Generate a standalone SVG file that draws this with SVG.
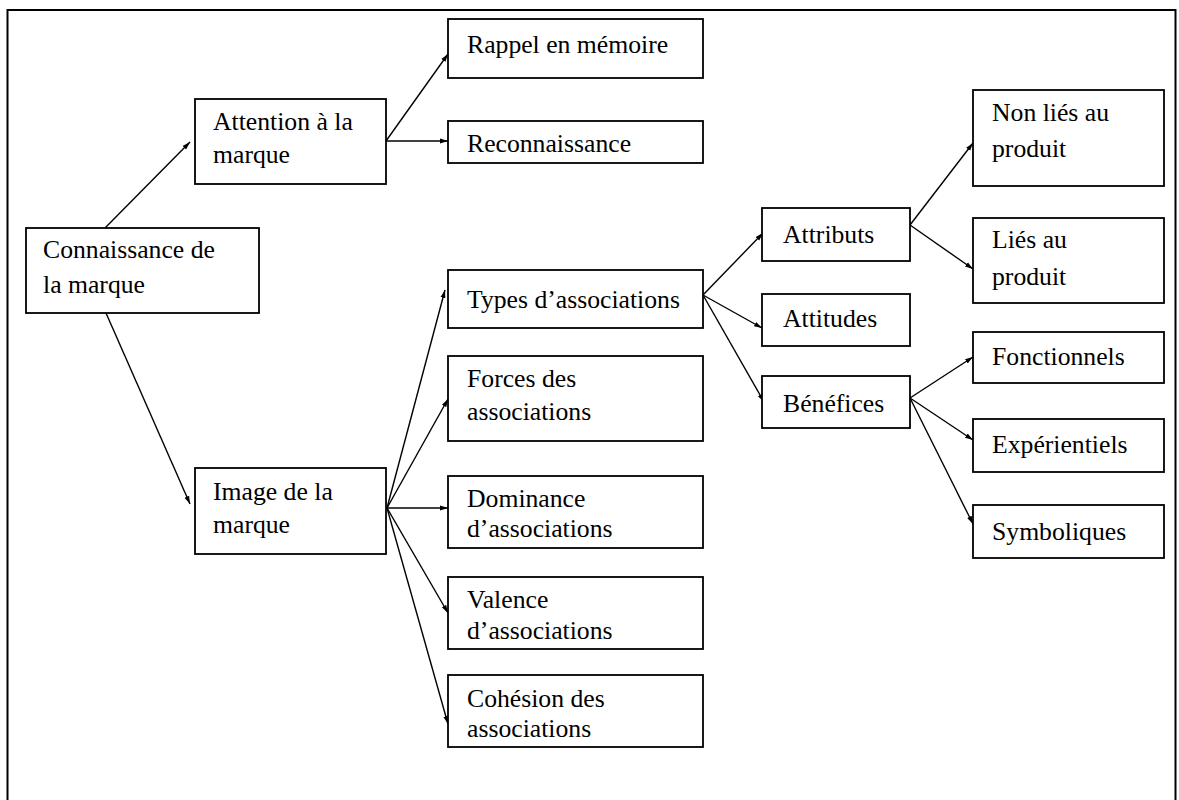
<svg xmlns="http://www.w3.org/2000/svg" width="1179" height="800" viewBox="0 0 1179 800">
<style>
.box{fill:#fff;stroke:#000;stroke-width:1.8}
.t{font-family:"Liberation Serif","Times New Roman",serif;font-size:25.7px;fill:#000}
.c{stroke:#000;stroke-width:1.4;fill:none;marker-end:url(#ah)}
</style>
<defs>
<marker id="ah" markerUnits="userSpaceOnUse" markerWidth="9" markerHeight="6" refX="8" refY="3" orient="auto">
<path d="M0,0.5 L8,3 L0,5.5 z" fill="#000"/>
</marker>
</defs>
<rect x="0" y="0" width="1179" height="800" fill="#fff"/>
<rect x="7.5" y="10" width="1168" height="800" fill="none" stroke="#000" stroke-width="2"/>
<g id="connectors">
<line class="c" x1="105" y1="228" x2="190" y2="142"/>
<line class="c" x1="106" y1="313" x2="190" y2="504"/>
<line class="c" x1="386" y1="141" x2="448" y2="54"/>
<line class="c" x1="386" y1="141" x2="448" y2="141"/>
<line class="c" x1="387" y1="508" x2="445" y2="290"/>
<line class="c" x1="387" y1="508" x2="448" y2="399"/>
<line class="c" x1="387" y1="508" x2="448" y2="508"/>
<line class="c" x1="387" y1="508" x2="448" y2="613"/>
<line class="c" x1="387" y1="508" x2="448" y2="724"/>
<line class="c" x1="703" y1="295" x2="763" y2="233"/>
<line class="c" x1="703" y1="295" x2="762" y2="328"/>
<line class="c" x1="703" y1="295" x2="764" y2="402"/>
<line class="c" x1="910" y1="225" x2="973" y2="143"/>
<line class="c" x1="910" y1="225" x2="973" y2="269"/>
<line class="c" x1="910" y1="398" x2="973" y2="357"/>
<line class="c" x1="910" y1="398" x2="973" y2="440"/>
<line class="c" x1="910" y1="398" x2="973" y2="524"/>
</g>
<g id="n-connaissance"><rect class="box" x="26" y="228" width="233" height="85"/><text class="t" x="43" y="258">Connaissance de</text><text class="t" x="43" y="293">la marque</text></g>
<g id="n-attention"><rect class="box" x="195" y="99" width="191" height="85"/><text class="t" x="213" y="130">Attention à la</text><text class="t" x="213" y="163">marque</text></g>
<g id="n-image"><rect class="box" x="195" y="468" width="191" height="86"/><text class="t" x="213" y="500">Image de la</text><text class="t" x="213" y="533">marque</text></g>
<g id="n-rappel"><rect class="box" x="448" y="19" width="255" height="59"/><text class="t" x="467" y="53">Rappel en mémoire</text></g>
<g id="n-reconnaissance"><rect class="box" x="448" y="121" width="255" height="42"/><text class="t" x="467" y="152">Reconnaissance</text></g>
<g id="n-types"><rect class="box" x="448" y="270" width="255" height="58"/><text class="t" x="467" y="308">Types d’associations</text></g>
<g id="n-forces"><rect class="box" x="448" y="356" width="255" height="85"/><text class="t" x="467" y="387">Forces des</text><text class="t" x="467" y="420">associations</text></g>
<g id="n-dominance"><rect class="box" x="448" y="476" width="255" height="72"/><text class="t" x="467" y="507">Dominance</text><text class="t" x="467" y="537">d’associations</text></g>
<g id="n-valence"><rect class="box" x="448" y="577" width="255" height="72"/><text class="t" x="467" y="608">Valence</text><text class="t" x="467" y="639">d’associations</text></g>
<g id="n-cohesion"><rect class="box" x="448" y="675" width="255" height="72"/><text class="t" x="467" y="707">Cohésion des</text><text class="t" x="467" y="737">associations</text></g>
<g id="n-attributs"><rect class="box" x="762" y="208" width="148" height="53"/><text class="t" x="783" y="243">Attributs</text></g>
<g id="n-attitudes"><rect class="box" x="762" y="294" width="148" height="52"/><text class="t" x="783" y="327">Attitudes</text></g>
<g id="n-benefices"><rect class="box" x="762" y="376" width="148" height="52"/><text class="t" x="783" y="412">Bénéfices</text></g>
<g id="n-nonlies"><rect class="box" x="973" y="90" width="191" height="96"/><text class="t" x="992" y="121">Non liés au</text><text class="t" x="992" y="157">produit</text></g>
<g id="n-lies"><rect class="box" x="973" y="218" width="191" height="85"/><text class="t" x="992" y="248">Liés au</text><text class="t" x="992" y="285">produit</text></g>
<g id="n-fonctionnels"><rect class="box" x="973" y="332" width="191" height="51"/><text class="t" x="992" y="365">Fonctionnels</text></g>
<g id="n-experientiels"><rect class="box" x="973" y="419" width="191" height="53"/><text class="t" x="992" y="453">Expérientiels</text></g>
<g id="n-symboliques"><rect class="box" x="973" y="505" width="191" height="53"/><text class="t" x="992" y="540">Symboliques</text></g>
</svg>
